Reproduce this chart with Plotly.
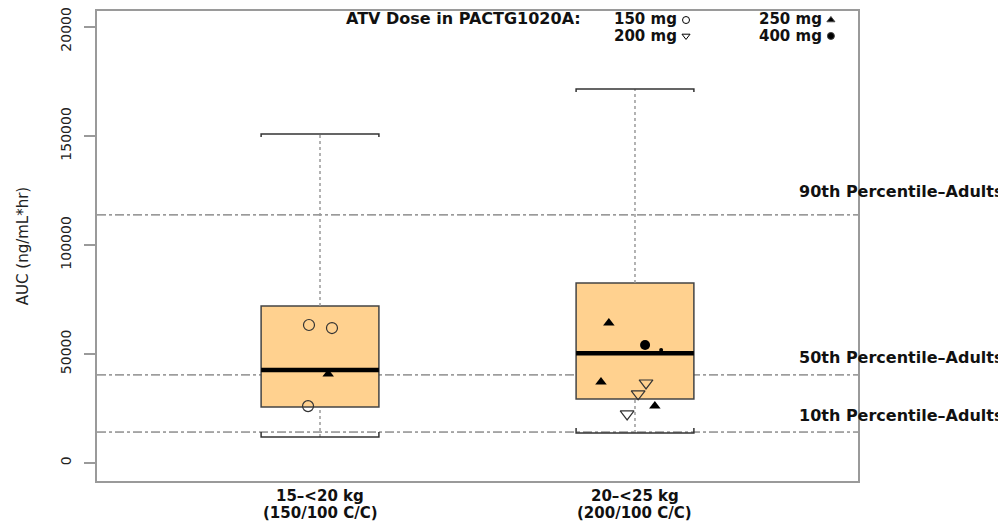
import plotly.graph_objects as go

# ---------------- data ----------------
groups = [1, 2]
group_line1 = ["15–<20 kg", "20–<25 kg"]
group_line2 = ["(150/100 C/C)", "(200/100 C/C)"]

whisker_low = [11900, 13800]
q1 = [25700, 29400]
median = [42700, 50400]
q3 = [72000, 82600]
whisker_high = [150900, 171600]

ref_values = [113800, 40400, 14200]
ref_labels = ["90th Percentile–Adults", "50th Percentile–Adults", "10th Percentile–Adults"]

# individual subjects (x = group position incl. jitter)
d150_x = [0.965, 1.038, 0.962]
d150_y = [63300, 61900, 26100]
d200_x = [2.035, 2.010, 1.975]
d200_y = [36700, 31700, 22500]
d250_x = [1.026, 1.917, 1.892, 2.063]
d250_y = [40800, 64200, 37200, 26100]
d400_x = [2.032]
d400_y = [54100]
dot_x = [2.083]
dot_y = [51800]

ytick_vals = [0, 50000, 100000, 150000, 200000]
ytick_text = ["0", "50000", "100000", "150000", "200000"]

legend_title = "ATV Dose in PACTG1020A:"
legend_labels = ["150 mg", "200 mg", "250 mg", "400 mg"]

# ---------------- style ----------------
FONT = "DejaVu Sans"
HW = 0.187
BOX_FILL = "#FFD18F"
GRAY = "#9a9a9a"
# page body has an 8px margin: figure is sized to fit the 1006x525 window
W, H = 998, 517

fig = go.Figure()

shapes = []
for i, g in enumerate(groups):
    shapes.append(dict(type="rect", xref="x", yref="y", x0=g - HW, x1=g + HW,
                       y0=q1[i], y1=q3[i], fillcolor=BOX_FILL,
                       line=dict(color="#444444", width=1.5), layer="below"))
for v in ref_values:
    shapes.append(dict(type="line", xref="paper", yref="y", x0=0, x1=1, y0=v, y1=v,
                       line=dict(color="#555555", width=1, dash="dashdot"), layer="below"))
for i, g in enumerate(groups):
    shapes.append(dict(type="line", xref="x", yref="y", x0=g, x1=g, y0=q3[i], y1=whisker_high[i],
                       line=dict(color=GRAY, width=1.5, dash="dot"), layer="below"))
    shapes.append(dict(type="line", xref="x", yref="y", x0=g, x1=g, y0=whisker_low[i], y1=q1[i],
                       line=dict(color=GRAY, width=1.5, dash="dot"), layer="below"))
    du = 1400
    dl = 2300
    shapes.append(dict(type="path", xref="x", yref="y",
                       path=f"M {g-HW},{whisker_high[i]-du} L {g-HW},{whisker_high[i]} L {g+HW},{whisker_high[i]} L {g+HW},{whisker_high[i]-du}",
                       line=dict(color="#333333", width=1.5), layer="below"))
    shapes.append(dict(type="path", xref="x", yref="y",
                       path=f"M {g-HW},{whisker_low[i]+dl} L {g-HW},{whisker_low[i]} L {g+HW},{whisker_low[i]} L {g+HW},{whisker_low[i]+dl}",
                       line=dict(color="#333333", width=1.5), layer="below"))
    shapes.append(dict(type="line", xref="x", yref="y", x0=g - HW, x1=g + HW,
                       y0=median[i], y1=median[i],
                       line=dict(color="black", width=4.5), layer="above"))

fig.add_trace(go.Scatter(x=d150_x, y=d150_y, mode="markers", showlegend=False,
                         marker=dict(symbol="circle-open", size=11, color="#333333", line=dict(width=1.2))))
fig.add_trace(go.Scatter(x=d200_x, y=d200_y, mode="markers", showlegend=False,
                         marker=dict(symbol="triangle-down-open", size=12, color="#333333", line=dict(width=1.2))))
fig.add_trace(go.Scatter(x=d250_x, y=d250_y, mode="markers", showlegend=False,
                         marker=dict(symbol="triangle-up", size=10, color="black")))
fig.add_trace(go.Scatter(x=d400_x, y=d400_y, mode="markers", showlegend=False,
                         marker=dict(symbol="circle", size=10, color="black")))
fig.add_trace(go.Scatter(x=dot_x, y=dot_y, mode="markers", showlegend=False,
                         marker=dict(symbol="circle", size=4, color="black")))

# legend symbols
leg_sym_x = [2.162, 2.162, 2.622, 2.622]
leg_sym_y = [203200, 195900, 203200, 195900]
leg_symbols = ["circle-open", "triangle-down-open", "triangle-up", "circle"]
for sx, sy, sym in zip(leg_sym_x, leg_sym_y, leg_symbols):
    fig.add_trace(go.Scatter(x=[sx], y=[sy], mode="markers", showlegend=False, cliponaxis=False,
                             marker=dict(symbol=sym, size=7, color="black", line=dict(width=1))))

annotations = []
annotations.append(dict(text=legend_title, xref="paper", yref="paper", x=0.6386, y=0.985,
                        xanchor="right", yanchor="middle", showarrow=False,
                        font=dict(family=FONT, size=16, color="#111", weight="bold")))
leg_pos = [(0.7635, 0.983), (0.7635, 0.947), (0.954, 0.983), (0.954, 0.947)]
for lab, (lx, ly) in zip(legend_labels, leg_pos):
    annotations.append(dict(text=lab, xref="paper", yref="paper", x=lx, y=ly,
                            xanchor="right", yanchor="middle", showarrow=False, borderpad=0,
                            font=dict(family=FONT, size=15, color="#111", weight="bold")))
ref_shift = [23, 17, 17]
for v, lab, s in zip(ref_values, ref_labels, ref_shift):
    annotations.append(dict(text=lab, xref="paper", yref="y", x=0.9198, y=v, yshift=s,
                            xanchor="left", yanchor="middle", showarrow=False,
                            font=dict(family=FONT, size=16, color="#111", weight="bold")))
for g, l1, l2 in zip(groups, group_line1, group_line2):
    annotations.append(dict(text=l1, xref="x", yref="paper", x=g, y=0, yshift=-15,
                            xanchor="center", yanchor="middle", showarrow=False, borderpad=0,
                            font=dict(family=FONT, size=15, color="#111", weight="bold")))
    annotations.append(dict(text=l2, xref="x", yref="paper", x=g, y=0, yshift=-32,
                            xanchor="center", yanchor="middle", showarrow=False, borderpad=0,
                            font=dict(family=FONT, size=15, color="#111", weight="bold")))

fig.update_layout(
    width=W, height=H,
    margin=dict(l=89, r=148, t=3, b=44),
    paper_bgcolor="white", plot_bgcolor="white",
    shapes=shapes, annotations=annotations,
    xaxis=dict(range=[0.292, 2.708], showticklabels=False, ticks="", showgrid=False,
               zeroline=False, showline=True, mirror=True, linecolor=GRAY, linewidth=1.5,
               automargin=False),
    yaxis=dict(range=[-8257, 207339], tickvals=ytick_vals, ticktext=ytick_text,
               tickangle=-90, ticks="outside", ticklen=11, tickcolor=GRAY, tickwidth=1.5,
               ticklabelstandoff=8, ticklabeloverflow="allow",
               tickfont=dict(family=FONT, size=14, color="#222"),
               showgrid=False, zeroline=False, showline=True, mirror=True,
               linecolor=GRAY, linewidth=1.5, automargin=False,
               title=dict(text="AUC (ng/mL*hr)", font=dict(family=FONT, size=15, color="#222"),
                          standoff=25)),
)

fig.write_html("out.html")
